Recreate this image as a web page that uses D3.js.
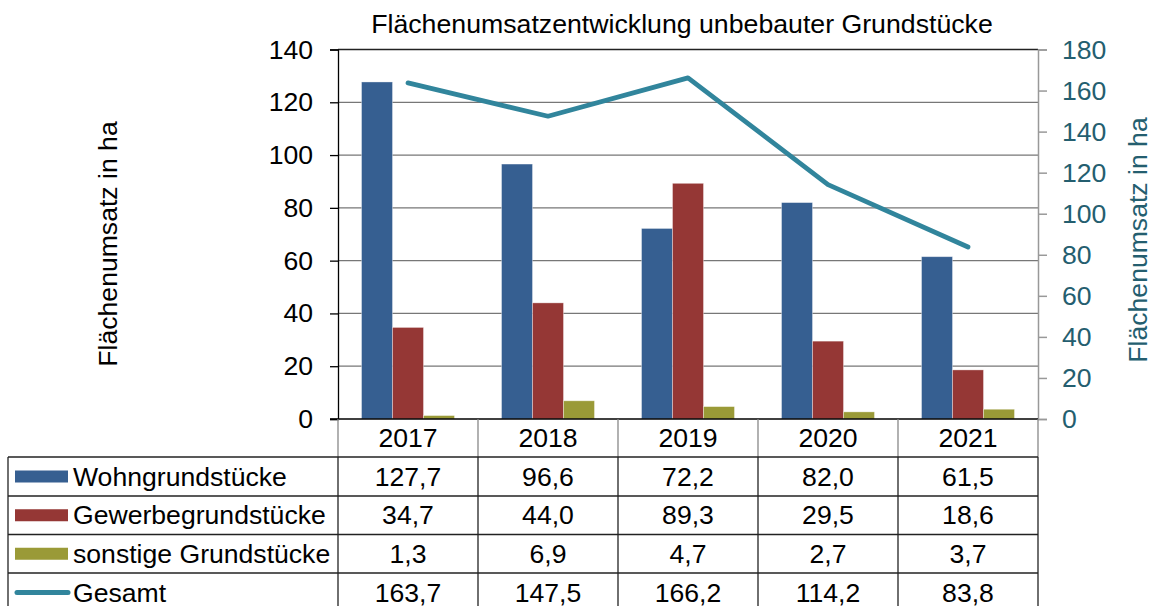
<!DOCTYPE html>
<html><head><meta charset="utf-8">
<script src="https://cdn.jsdelivr.net/npm/d3@7"></script>
<style>
html,body{margin:0;padding:0;background:#fff;}
svg{display:block;font-family:"Liberation Sans",Arial,sans-serif;}
</style></head>
<body>
<svg id="c" width="1156" height="606"></svg>
<script>
const title = "Flächenumsatzentwicklung unbebauter Grundstücke";
const axisLabel = "Flächenumsatz in ha";
const years = ["2017","2018","2019","2020","2021"];
const seriesNames = ["Wohngrundstücke","Gewerbegrundstücke","sonstige Grundstücke"];
const wohn = [127.7, 96.6, 72.2, 82.0, 61.5];
const gewerbe = [34.7, 44.0, 89.3, 29.5, 18.6];
const sonstige = [1.3, 6.9, 4.7, 2.7, 3.7];
const lineName = "Gesamt";
const gesamt = [163.7, 147.5, 166.2, 114.2, 83.8];
const leftTicks = [0,20,40,60,80,100,120,140];
const rightTicks = [0,20,40,60,80,100,120,140,160,180];

const barColors = ["#365F91","#953735","#9A9A37"];
const lineColor = "#31859C";
const rightColor = "#245E6F";
const FS = 26.6;

const svg = d3.select("#c");
const X0 = 338, X1 = 1038, Ytop = 49.5, Ybot = 419;

const x = d3.scaleBand().domain(years).range([X0, X1]).paddingInner(0.336).paddingOuter(0.168);
const xs = d3.scaleBand().domain(seriesNames).range([0, x.bandwidth()]);
const yL = d3.scaleLinear().domain([0,140]).range([Ybot, Ytop]);
const yR = d3.scaleLinear().domain([0,180]).range([Ybot, Ytop]);
const fmt = d3.formatLocale({decimal:",", thousands:".", grouping:[3], currency:["","€"]}).format(".1f");

// gridlines
svg.append("g").selectAll("line").data(leftTicks.filter(d=>d>0)).join("line")
  .attr("x1", X0).attr("x2", X1).attr("y1", d=>yL(d)).attr("y2", d=>yL(d))
  .attr("stroke", d=> d===140 ? "#222" : "#777").attr("stroke-width", 1.3);

// left axis
const gl = svg.append("g").attr("transform", `translate(${X0},0)`)
  .call(d3.axisLeft(yL).tickValues(leftTicks).tickSize(8).tickPadding(17));
gl.select(".domain").attr("stroke","#000").attr("stroke-width",1.3);
gl.selectAll(".tick line").attr("stroke","#000").attr("stroke-width",1.3);
gl.selectAll(".tick text").attr("font-size",FS).attr("fill","#000").attr("font-family","Liberation Sans, Arial, sans-serif");

// right axis
const gr = svg.append("g").attr("transform", `translate(${X1},0)`)
  .call(d3.axisRight(yR).tickValues(rightTicks).tickSize(9).tickPadding(15));
gr.select(".domain").attr("stroke","#999").attr("stroke-width",1.5);
gr.selectAll(".tick line").attr("stroke","#999").attr("stroke-width",1.5);
gr.selectAll(".tick text").attr("font-size",FS).attr("fill",rightColor).attr("font-family","Liberation Sans, Arial, sans-serif");

// bars
const allSeries = [wohn, gewerbe, sonstige];
seriesNames.forEach((s, si) => {
  svg.append("g").selectAll("rect").data(years).join("rect")
    .attr("x", (d)=> x(d) + xs(s))
    .attr("width", xs.bandwidth())
    .attr("y", (d,i)=> yL(allSeries[si][i]))
    .attr("height", (d,i)=> Ybot - yL(allSeries[si][i]))
    .attr("fill", barColors[si])
    .attr("stroke", "rgba(255,255,255,0.45)").attr("stroke-width", 0.8);
});

// bottom axis line
svg.append("line").attr("x1", X0-8).attr("x2", X1).attr("y1", Ybot).attr("y2", Ybot)
  .attr("stroke","#000").attr("stroke-width",1.5);

// line
const line = d3.line().x((d,i)=> x(years[i]) + x.bandwidth()/2).y(d=> yR(d));
svg.append("path").datum(gesamt).attr("d", line).attr("fill","none")
  .attr("stroke", lineColor).attr("stroke-width", 4.8)
  .attr("stroke-linecap","round").attr("stroke-linejoin","round");

// title
svg.append("text").attr("x", 682).attr("y", 24).attr("text-anchor","middle")
  .attr("dominant-baseline","central").attr("font-size", 26.7).attr("fill","#000").text(title);

// axis titles
svg.append("text").attr("transform","translate(108,244) rotate(-90)").attr("text-anchor","middle")
  .attr("dominant-baseline","central").attr("font-size",FS).attr("fill","#000").text(axisLabel);
svg.append("text").attr("transform","translate(1138,240) rotate(-90)").attr("text-anchor","middle")
  .attr("dominant-baseline","central").attr("font-size",FS).attr("fill",rightColor).text(axisLabel);

// data table
const step = x.step();
const colEdges = d3.range(years.length+1).map(i => X0 + i*step);
const rowEdges = [457, 496, 534.5, 573, 612];
const TL = 8;
const tg = svg.append("g");
tg.selectAll("line.hv").data(colEdges).join("line").attr("class","hv")
  .attr("x1", d=>d).attr("x2", d=>d).attr("y1", Ybot).attr("y2", rowEdges[0])
  .attr("stroke","#888").attr("stroke-width",1.3);
tg.selectAll("line.h").data(rowEdges).join("line").attr("class","h")
  .attr("x1", TL).attr("x2", X1).attr("y1", d=>d).attr("y2", d=>d)
  .attr("stroke","#222").attr("stroke-width",1.3);
tg.selectAll("line.v").data([TL].concat(colEdges)).join("line").attr("class","v")
  .attr("x1", d=>d).attr("x2", d=>d).attr("y1", rowEdges[0]).attr("y2", 606)
  .attr("stroke","#222").attr("stroke-width",1.3);
tg.selectAll("text.yr").data(years).join("text").attr("class","yr")
  .attr("x", d=> x(d) + x.bandwidth()/2).attr("y", 438)
  .attr("text-anchor","middle").attr("dominant-baseline","central")
  .attr("font-size",FS).attr("fill","#000").text(d=>d);

const rows = [
  {name: seriesNames[0], vals: wohn, color: barColors[0], type:"bar"},
  {name: seriesNames[1], vals: gewerbe, color: barColors[1], type:"bar"},
  {name: seriesNames[2], vals: sonstige, color: barColors[2], type:"bar"},
  {name: lineName, vals: gesamt, color: lineColor, type:"line"}
];
rows.forEach((r, ri) => {
  const cy = (rowEdges[ri] + rowEdges[ri+1]) / 2;
  if (r.type === "bar") {
    tg.append("rect").attr("x", 15).attr("y", cy-6).attr("width", 53).attr("height", 12).attr("fill", r.color);
  } else {
    tg.append("line").attr("x1", 17).attr("x2", 68).attr("y1", cy).attr("y2", cy)
      .attr("stroke", r.color).attr("stroke-width", 5).attr("stroke-linecap","round");
  }
  tg.append("text").attr("x", 73).attr("y", cy).attr("dominant-baseline","central")
    .attr("font-size",FS).attr("fill","#000").text(r.name);
  tg.selectAll(null).data(r.vals).join("text")
    .attr("x", (d,i)=> x(years[i]) + x.bandwidth()/2).attr("y", cy)
    .attr("text-anchor","middle").attr("dominant-baseline","central")
    .attr("font-size",FS).attr("fill","#000").text(d=>fmt(d));
});
</script>
</body></html>
